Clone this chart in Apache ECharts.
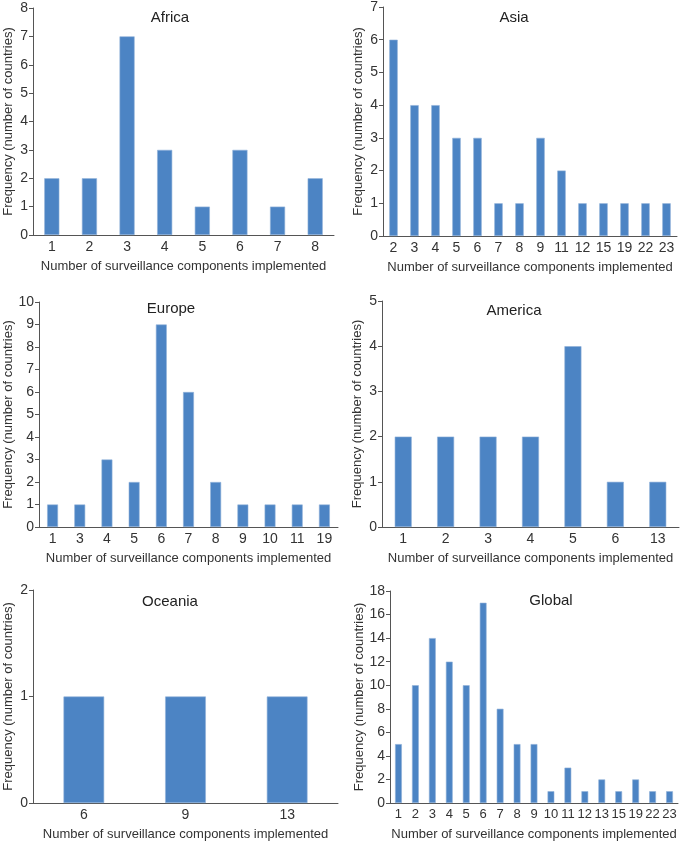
<!DOCTYPE html>
<html><head><meta charset="utf-8">
<script src="https://cdn.jsdelivr.net/npm/echarts@6/dist/echarts.min.js"></script>
<style>html,body{margin:0;padding:0;background:#fff}#c{width:681px;height:842px}</style>
</head><body><div id="c"></div>
<script>
const africaCats = ['1','2','3','4','5','6','7','8'];
const africaVals = [2,2,7,3,1,3,1,2];
const asiaCats = ['2','3','4','5','6','7','8','9','11','12','15','19','22','23'];
const asiaVals = [6,4,4,3,3,1,1,3,2,1,1,1,1,1];
const europeCats = ['1','3','4','5','6','7','8','9','10','11','19'];
const europeVals = [1,1,3,2,9,6,2,1,1,1,1];
const americaCats = ['1','2','3','4','5','6','13'];
const americaVals = [2,2,2,2,4,1,1];
const oceaniaCats = ['6','9','13'];
const oceaniaVals = [1,1,1];
const globalCats = ['1','2','3','4','5','6','7','8','9','10','11','12','13','15','19','22','23'];
const globalVals = [5,10,14,12,10,17,8,5,5,1,3,1,2,1,2,1,1];

const panels = [
  {title:'Africa', cats:africaCats, vals:africaVals, max:8, interval:1, grid:{left:33,top:8,width:301,height:227}, tx:170, ty:18, xf:14},
  {title:'Asia', cats:asiaCats, vals:asiaVals, max:7, interval:1, grid:{left:383,top:7,width:294,height:229}, tx:514, ty:18, xf:14},
  {title:'Europe', cats:europeCats, vals:europeVals, max:10, interval:1, grid:{left:39,top:302,width:299,height:225}, tx:171, ty:309, xf:14},
  {title:'America', cats:americaCats, vals:americaVals, max:5, interval:1, grid:{left:382,top:301,width:297,height:226}, tx:514, ty:311, xf:14},
  {title:'Oceania', cats:oceaniaCats, vals:oceaniaVals, max:2, interval:1, grid:{left:33,top:590,width:305,height:215}, tx:170, ty:602, xf:14},
  {title:'Global', cats:globalCats, vals:globalVals, max:18, interval:2, grid:{left:390,top:591,width:288,height:215}, tx:551, ty:601, xf:13}
];
const FONT = 'Liberation Sans';
const axisCol = '#555';
const txtCol = '#333';
const option = {
  animation:false,
  textStyle:{fontFamily:FONT},
  grid: panels.map(p=>Object.assign({containLabel:false}, p.grid)),
  xAxis: panels.map((p,i)=>({
    type:'category', gridIndex:i, data:p.cats,
    name:'Number of surveillance components implemented', nameLocation:'middle', nameGap:25,
    nameTextStyle:{fontSize:13, color:txtCol, fontFamily:FONT},
    axisLine:{lineStyle:{color:axisCol, width:1}},
    axisTick:{length:4, lineStyle:{color:axisCol}},
    axisLabel:{fontSize:p.xf, color:txtCol, margin:5, interval:0, fontFamily:FONT}
  })),
  yAxis: panels.map((p,i)=>({
    type:'value', gridIndex:i, min:0, max:p.max, interval:p.interval,
    name:'Frequency (number of countries)', nameLocation:'middle', nameGap:18,
    nameTextStyle:{fontSize:13, color:txtCol, fontFamily:FONT},
    axisLine:{show:true, lineStyle:{color:axisCol, width:1}},
    axisTick:{show:true, length:4, lineStyle:{color:axisCol}},
    splitLine:{show:false},
    axisLabel:{fontSize:14, color:txtCol, margin:5, fontFamily:FONT}
  })),
  series: panels.map((p,i)=>({
    type:'bar', xAxisIndex:i, yAxisIndex:i, data:p.vals, barWidth:'40%',
    itemStyle:{color:'#4c84c4', borderColor:'#8fb0d8', borderWidth:0.6}
  })),
  graphic: panels.map(p=>({
    type:'text', x:p.tx, y:p.ty,
    style:{text:p.title, textAlign:'center', textVerticalAlign:'middle', font:'15px "'+FONT+'"', fill:'#222'}
  }))
};
const chart = echarts.init(document.getElementById('c'));
chart.setOption(option);
</script></body></html>
